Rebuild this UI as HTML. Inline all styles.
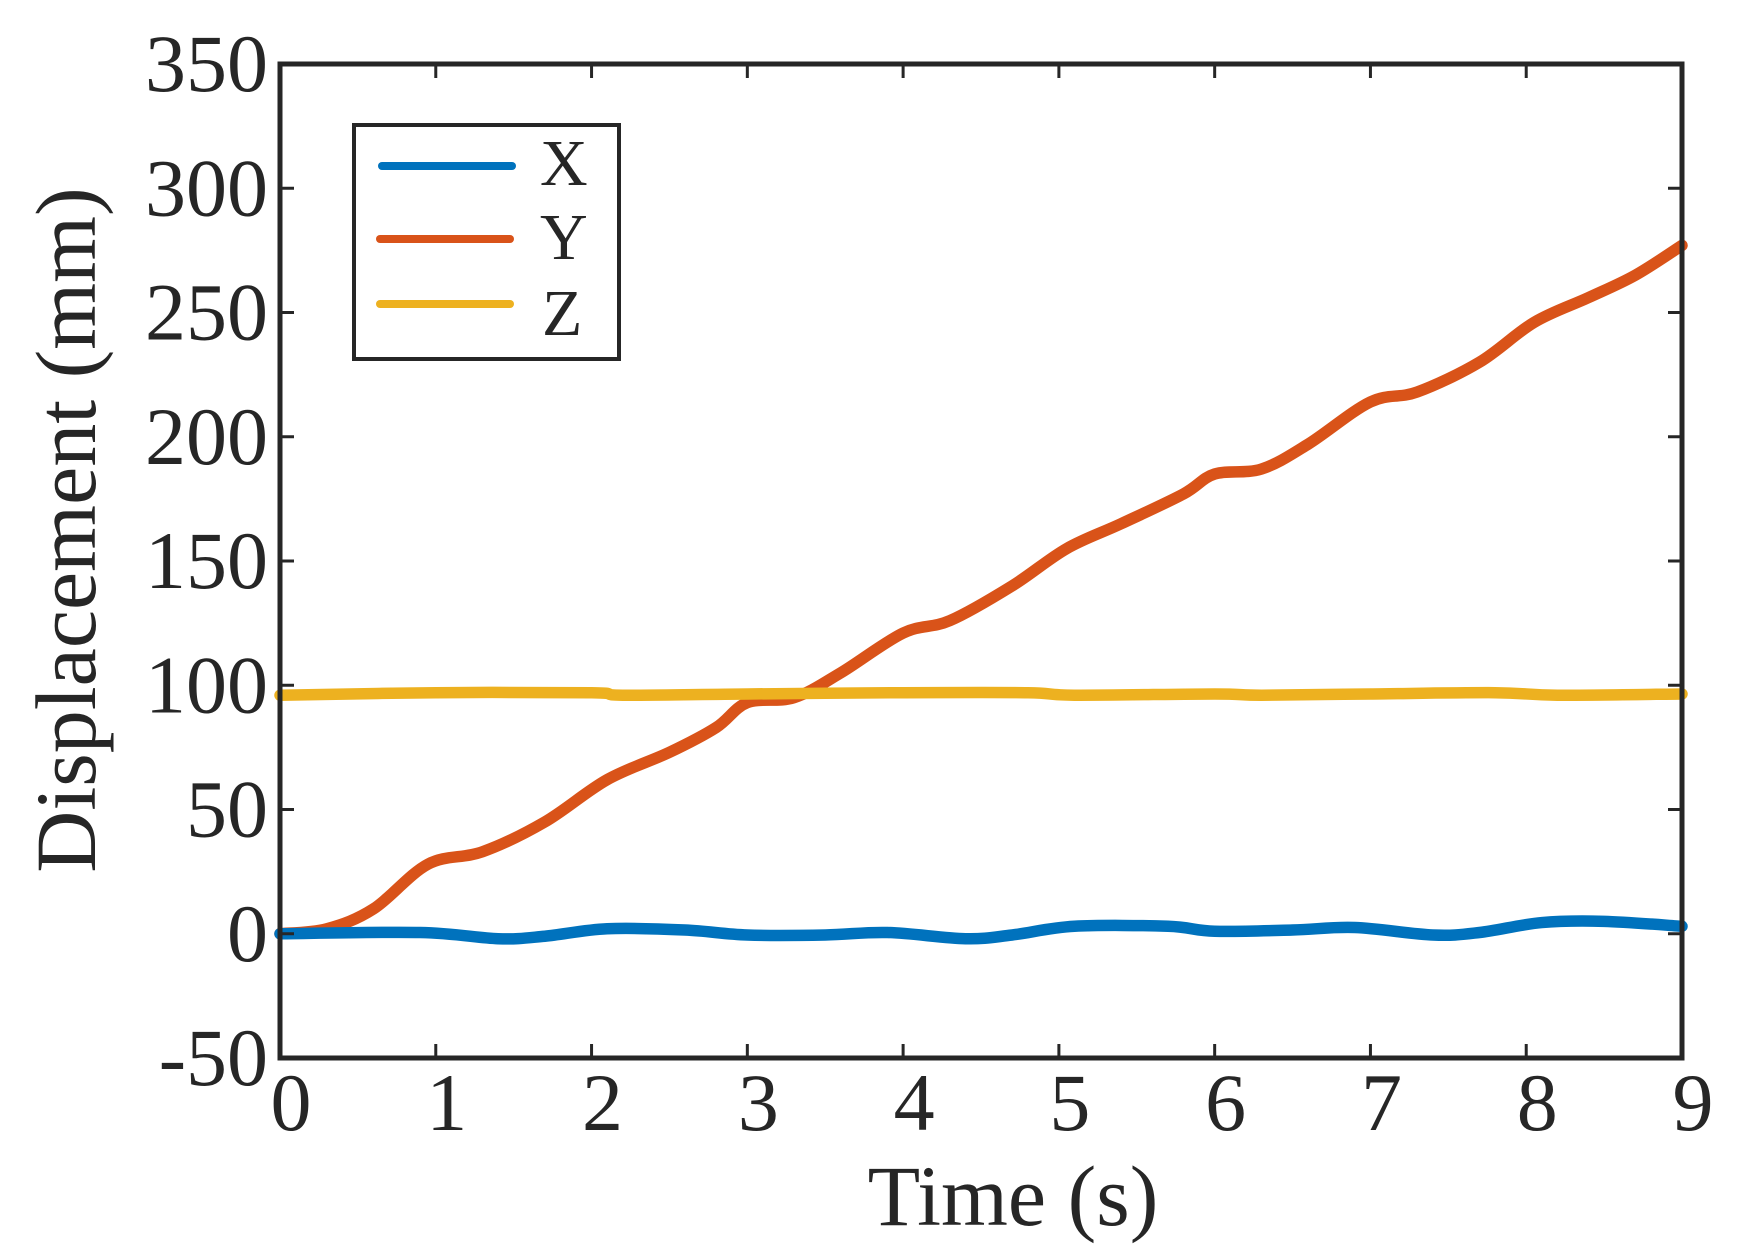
<!DOCTYPE html>
<html><head><meta charset="utf-8"><style>
html,body{margin:0;padding:0;background:#fff;}
svg{display:block;}
text{font-family:"Liberation Serif",serif;fill:#262626;}
</style></head><body>
<svg id="s" width="1744" height="1253" viewBox="0 0 1744 1253" xmlns="http://www.w3.org/2000/svg">
<g id="series" fill="none" stroke-width="11.5" stroke-linecap="round" stroke-linejoin="round"></g>
<rect x="280" y="64" width="1402" height="994" fill="none" stroke="#262626" stroke-width="5"/>
<g id="ticks" stroke="#262626" stroke-width="3"></g>
<g id="labels" font-size="82"></g>
<text x="1013" y="1225" font-size="86" text-anchor="middle">Time (s)</text>
<text transform="translate(95,530) rotate(-90)" font-size="86" text-anchor="middle">Displacement (mm)</text>
<rect x="354" y="125" width="265" height="234" fill="#fff" stroke="#262626" stroke-width="4"/>
<line x1="382" y1="166" x2="512" y2="166" stroke="#0072BD" stroke-width="8" stroke-linecap="round"/>
<line x1="380" y1="239" x2="510" y2="239" stroke="#D95319" stroke-width="8" stroke-linecap="round"/>
<line x1="380" y1="304" x2="510" y2="304" stroke="#EDB120" stroke-width="8" stroke-linecap="round"/>
<text x="540" y="185" font-size="66">X</text>
<text x="540" y="259" font-size="66">Y</text>
<text x="542" y="335" font-size="66">Z</text>
</svg>
<script>
var L=280,R=1682,T=64,B=1058;
function px(t){return L+(R-L)*t/9;}
function py(v){return B-(v+50)*(B-T)/400;}
var tk=document.getElementById('ticks'),lb=document.getElementById('labels');
for(var i=0;i<=9;i++){var x=px(i);
 if(i>0&&i<9){tk.innerHTML+='<line x1="'+x+'" y1="'+B+'" x2="'+x+'" y2="'+(B-14)+'"/><line x1="'+x+'" y1="'+T+'" x2="'+x+'" y2="'+(T+14)+'"/>';}
 lb.innerHTML+='<text x="'+(x+11)+'" y="'+1130+'" text-anchor="middle">'+i+'</text>';}
for(var v=-50;v<=350;v+=50){var y=py(v);
 if(v>-50&&v<350){tk.innerHTML+='<line x1="'+L+'" y1="'+y+'" x2="'+(L+14)+'" y2="'+y+'"/><line x1="'+R+'" y1="'+y+'" x2="'+(R-14)+'" y2="'+y+'"/>';}
 lb.innerHTML+='<text x="268" y="'+(y+27)+'" text-anchor="end">'+v+'</text>';}
function path(pts,c){
 var p=pts.map(function(a){return [px(a[0]),py(a[1])];});
 var d='M'+p[0][0]+','+p[0][1];
 for(var i=0;i<p.length-1;i++){
  var p0=p[i-1]||p[i],p1=p[i],p2=p[i+1],p3=p[i+2]||p2;
  var c1x=p1[0]+(p2[0]-p0[0])/6,c1y=p1[1]+(p2[1]-p0[1])/6,c2x=p2[0]-(p3[0]-p1[0])/6,c2y=p2[1]-(p3[1]-p1[1])/6;
  d+=' C'+c1x+','+c1y+' '+c2x+','+c2y+' '+p2[0]+','+p2[1];}
 document.getElementById('series').innerHTML+='<path d="'+d+'" stroke="'+c+'"/>';}
path([[0,0],[0.3,2],[0.6,10],[0.95,28],[1.3,33],[1.7,45],[2.1,62],[2.5,73],[2.8,83],[3.0,93],[3.3,95],[3.6,105],[4.0,121],[4.3,126],[4.7,140],[5.05,155],[5.4,165],[5.8,177],[6.0,185],[6.3,187],[6.6,197],[7.0,214],[7.3,218],[7.7,230],[8.05,246],[8.4,256],[8.7,265],[9,277]],'#D95319');
path([[0,0],[0.9,0.5],[1.4,-2],[1.7,-1],[2.1,2],[2.6,1.5],[3.0,-0.5],[3.5,-0.5],[3.9,0.5],[4.4,-2],[4.7,-0.5],[5.1,3],[5.7,3],[6.0,1],[6.5,1.5],[6.9,2.5],[7.4,-0.5],[7.7,0.5],[8.1,4.5],[8.5,5],[9,3]],'#0072BD');
path([[0,96],[1,97],[2,97],[2.2,96],[3,96.5],[4,97],[4.8,97],[5.1,96],[6,96.5],[6.3,96],[7,96.5],[7.8,97],[8.2,96],[9,96.5]],'#EDB120');
</script>
</body></html>
